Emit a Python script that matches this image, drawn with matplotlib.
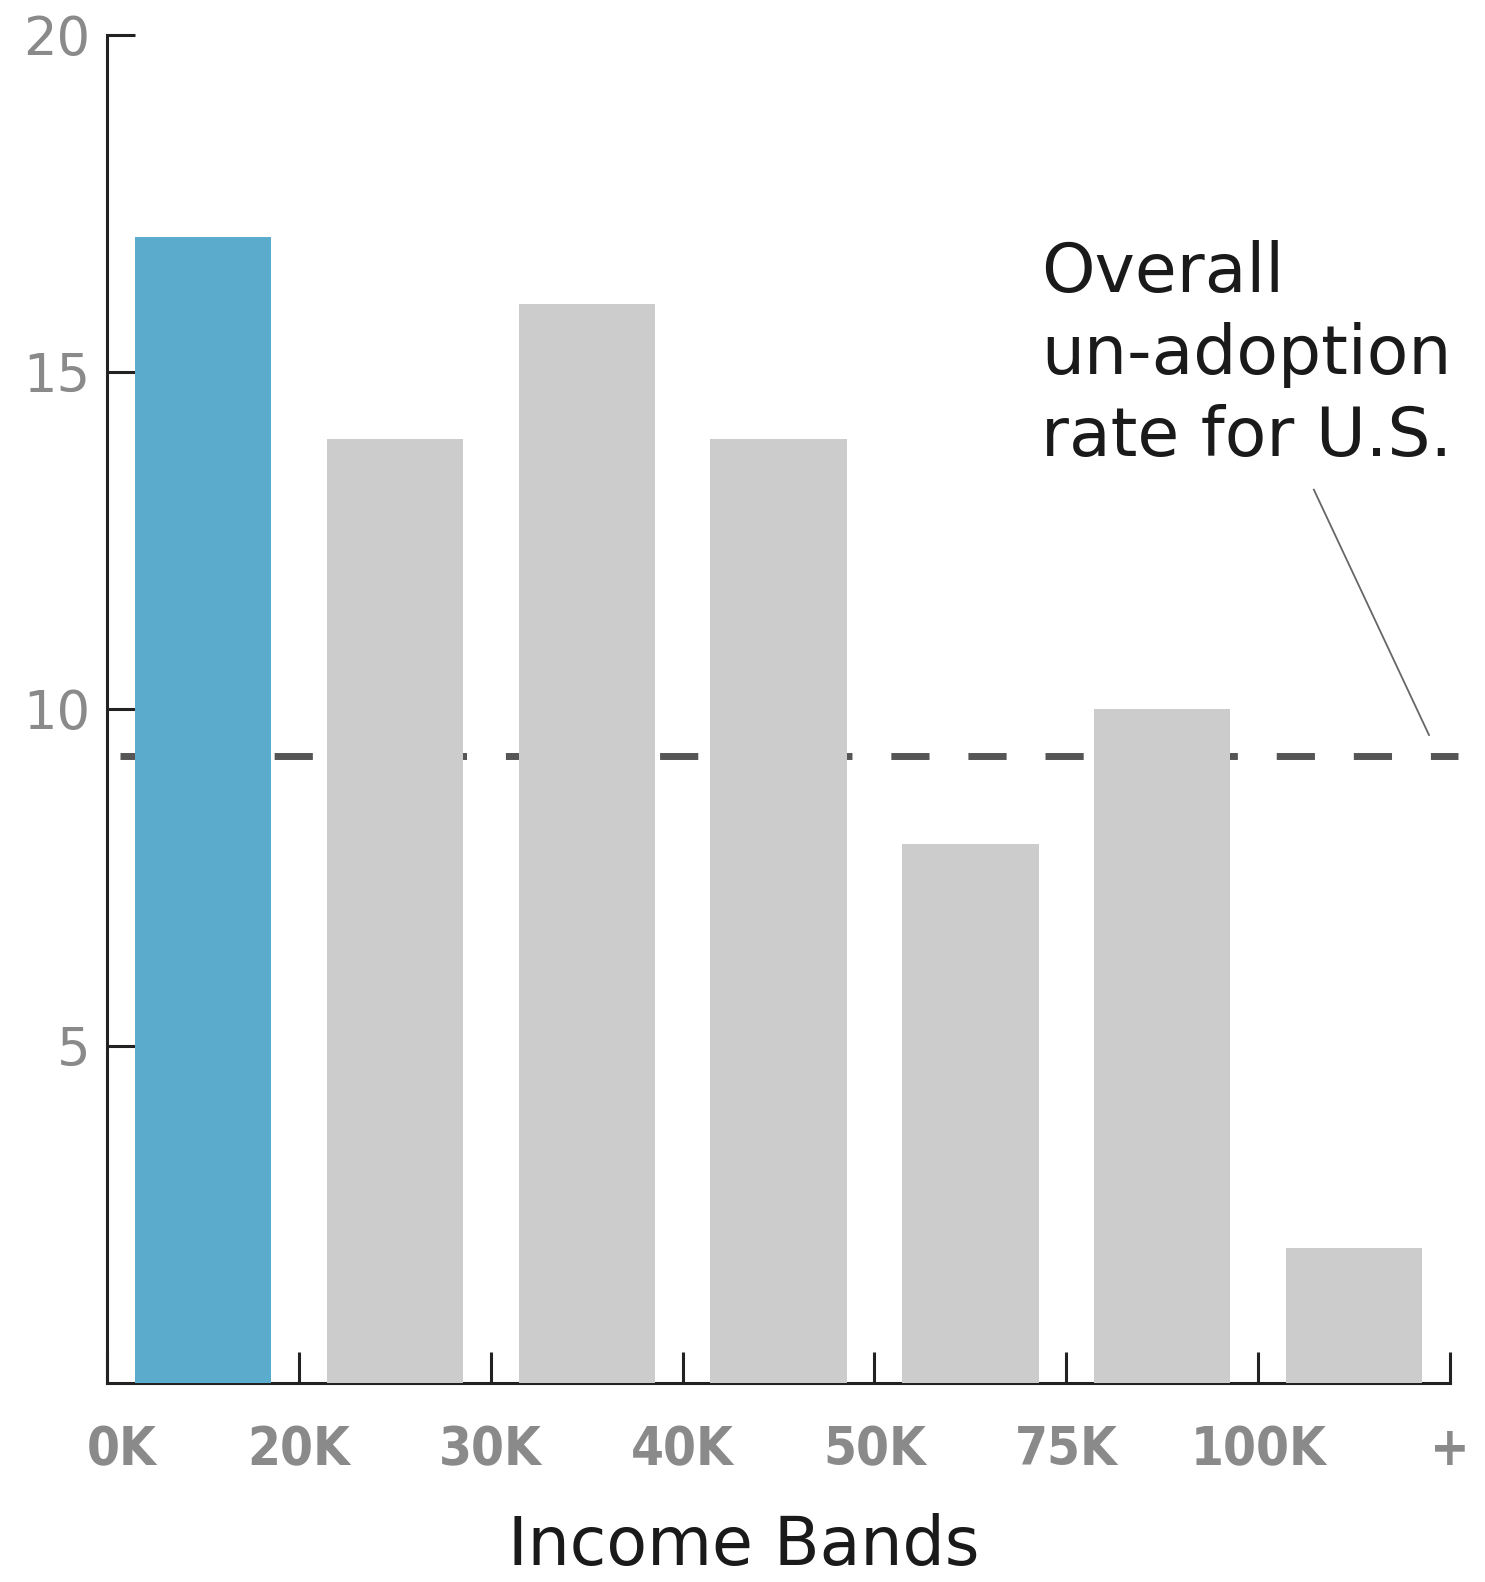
import numpy as np
import matplotlib
matplotlib.use('Agg')
import matplotlib.pyplot as plt
from matplotlib.transforms import ScaledTranslation

# 收入分组与数值
band_edges = ["0K", "20K", "30K", "40K", "50K", "75K", "100K", "+"]
rates = [17, 14, 16, 14, 8, 10, 2]
overall_rate = 9.3
highlight = 0

bar_colors = ['#5aabcc' if i == highlight else '#cccccc' for i in range(len(rates))]

fig = plt.figure(figsize=(14.85, 15.82), dpi=100)
ax = fig.add_axes([0.072, 0.126, 0.9045, 0.852])

x = np.arange(len(rates)) + 0.5
ax.bar(x, rates, width=0.71, color=bar_colors, zorder=3)

# 全国平均虚线（在柱子后面）
ax.plot([0.07, len(rates) + 0.04], [overall_rate, overall_rate], color='#555555',
        lw=5, linestyle=(0, (5.5, 5.6)), zorder=2, solid_capstyle='butt',
        clip_on=False)

ax.set_xlim(0, len(rates))
ax.set_ylim(0, 20)

for s in ['top', 'right']:
    ax.spines[s].set_visible(False)
for s in ['left', 'bottom']:
    ax.spines[s].set_linewidth(2.2)
    ax.spines[s].set_color('#222222')

ax.set_yticks([5, 10, 15, 20])
ax.set_yticklabels(['5', '10', '15', '20'])
ax.tick_params(axis='y', direction='in', length=20, width=2.2, color='#222222',
               labelsize=38, labelcolor='#8a8a8a', pad=12)

ax.set_xticks(range(len(band_edges)))
ax.set_xticklabels(band_edges, family='DejaVu Sans', fontstretch='condensed',
                   fontweight='bold')
ax.tick_params(axis='x', direction='in', length=22, width=2.2, color='#222222',
               labelsize=38, labelcolor='#8a8a8a', pad=30)
# "0K" 稍微右移
lab0 = ax.get_xticklabels()[0]
lab0.set_transform(lab0.get_transform() + ScaledTranslation(0.15, 0, fig.dpi_scale_trans))

ax.set_xlabel("Income Bands", fontsize=48, family='DejaVu Sans', color='#1a1a1a')
ax.xaxis.set_label_coords(0.474, -0.097)

# 注释
ax.text(4.87, 16.95, "Overall\nun-adoption\nrate for U.S.", fontsize=49,
        family='DejaVu Sans', color='#1a1a1a', ha='left', va='top', linespacing=1.3)
ax.plot([6.29, 6.89], [13.25, 9.61], color='#666666', lw=1.3, zorder=4)

plt.savefig("out.png", dpi=100)
